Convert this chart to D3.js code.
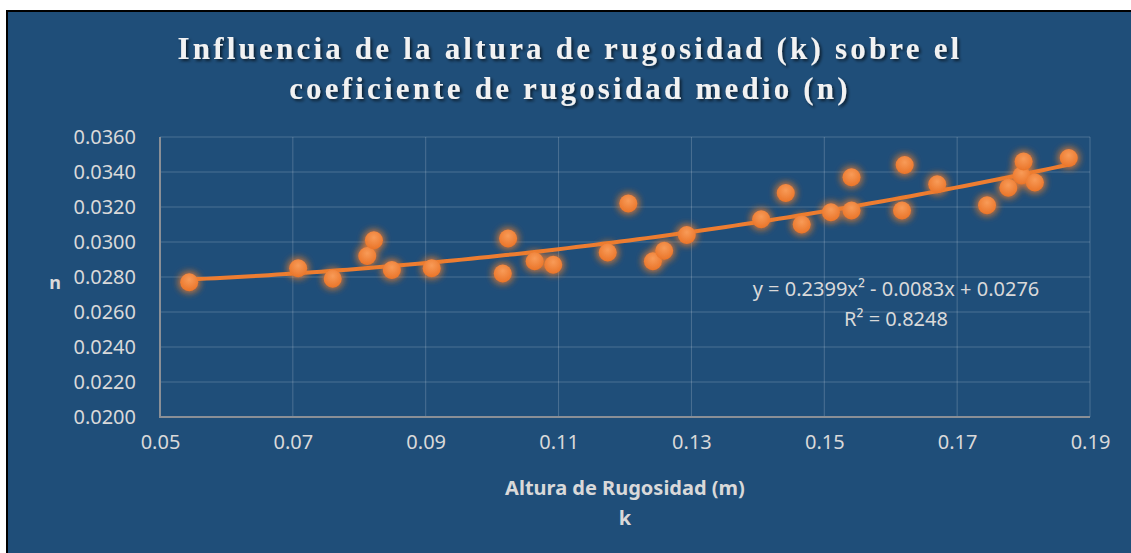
<!DOCTYPE html>
<html>
<head>
<meta charset="utf-8">
<script src="https://cdn.jsdelivr.net/npm/d3@7"></script>
<style>
  body { margin: 0; background: #fff; }
  svg { display: block; }
</style>
</head>
<body>
<div id="chart"></div>
<script>
// data
var kValues = [0.0544, 0.0708, 0.0760, 0.0812, 0.0822, 0.0849, 0.0909, 0.1016, 0.1024, 0.1064,
               0.1092, 0.1174, 0.1205, 0.1242, 0.1259, 0.1293, 0.1405, 0.1442, 0.1466, 0.1510,
               0.1541, 0.1541, 0.1617, 0.1621, 0.1670, 0.1745, 0.1777, 0.1797, 0.1800, 0.1817, 0.1868];
var nValues = [0.0277, 0.0285, 0.0279, 0.0292, 0.0301, 0.0284, 0.0285, 0.0282, 0.0302, 0.0289,
               0.0287, 0.0294, 0.0322, 0.0289, 0.0295, 0.0304, 0.0313, 0.0328, 0.0310, 0.0317,
               0.0337, 0.0318, 0.0318, 0.0344, 0.0333, 0.0321, 0.0331, 0.0338, 0.0346, 0.0334, 0.0348];
var xTicks = [0.05, 0.07, 0.09, 0.11, 0.13, 0.15, 0.17, 0.19];
var yTicks = [0.020, 0.022, 0.024, 0.026, 0.028, 0.030, 0.032, 0.034, 0.036];
// polynomial trendline coefficients shown on the chart
var trendCoef = [0.2399, -0.0083, 0.0276];
var trendLabel = ['y = 0.2399x\u00B2 - 0.0083x + 0.0276', 'R\u00B2 = 0.8248'];
var titleLines = ['Influencia de la altura de rugosidad (k) sobre el', 'coeficiente de rugosidad medio (n)'];

var W = 1131, H = 553;
var pLeft = 160, pRight = 1090, pTop = 137, pBottom = 417;
var orange = '#ED7D31', textCol = '#d9d9d9';

var svg = d3.select('#chart').append('svg').attr('width', W).attr('height', H);
var defs = svg.append('defs');

var glow = defs.append('filter').attr('id', 'glow')
  .attr('x', '-10%').attr('y', '-10%').attr('width', '120%').attr('height', '120%');
glow.append('feGaussianBlur').attr('in', 'SourceAlpha').attr('stdDeviation', 4.5).attr('result', 'blur');
glow.append('feFlood').attr('flood-color', orange).attr('flood-opacity', 0.8);
glow.append('feComposite').attr('in2', 'blur').attr('operator', 'in').attr('result', 'g');
var gm = glow.append('feMerge');
gm.append('feMergeNode').attr('in', 'g');
gm.append('feMergeNode').attr('in', 'g');
gm.append('feMergeNode').attr('in', 'SourceGraphic');

var grad = defs.append('radialGradient').attr('id', 'dot').attr('cx', '50%').attr('cy', '35%').attr('r', '65%');
grad.append('stop').attr('offset', '0%').attr('stop-color', '#f89b58');
grad.append('stop').attr('offset', '100%').attr('stop-color', '#ea7428');

var shadow = defs.append('filter').attr('id', 'tshadow');
shadow.append('feDropShadow').attr('dx', 2).attr('dy', 2).attr('stdDeviation', 1.5)
  .attr('flood-color', '#000').attr('flood-opacity', 0.6);

// frame
svg.append('rect').attr('x', 7).attr('y', 11).attr('width', W).attr('height', H)
  .attr('fill', '#1f4e79').attr('stroke', '#000').attr('stroke-width', 2);

var x = d3.scaleLinear().domain([0.05, 0.19]).range([pLeft, pRight]);
var y = d3.scaleLinear().domain([0.020, 0.036]).range([pBottom, pTop]);

// gridlines
svg.append('g').selectAll('line').data(yTicks.slice(1)).enter().append('line')
  .attr('x1', pLeft).attr('x2', pRight)
  .attr('y1', function(d) { return y(d); }).attr('y2', function(d) { return y(d); })
  .attr('stroke', 'rgba(255,255,255,0.2)').attr('stroke-width', 1);
svg.append('g').selectAll('line').data(xTicks.slice(1)).enter().append('line')
  .attr('y1', pTop).attr('y2', pBottom)
  .attr('x1', function(d) { return x(d); }).attr('x2', function(d) { return x(d); })
  .attr('stroke', 'rgba(255,255,255,0.2)').attr('stroke-width', 1);

// axes
var xAxis = svg.append('g').attr('transform', 'translate(0,' + pBottom + ')')
  .call(d3.axisBottom(x).tickValues(xTicks).tickSize(0).tickPadding(18).tickFormat(d3.format('.2f')));
var yAxis = svg.append('g').attr('transform', 'translate(' + pLeft + ',0)')
  .call(d3.axisLeft(y).tickValues(yTicks).tickSize(0).tickPadding(24).tickFormat(d3.format('.4f')));
[xAxis, yAxis].forEach(function(a) {
  a.select('.domain').attr('stroke', '#8a8f96').attr('stroke-width', 2);
  a.selectAll('text').attr('fill', textCol).attr('font-family', 'Noto Sans').attr('font-size', 20);
});
yAxis.select('.domain').attr('d', 'M0,' + pTop + 'V' + (pBottom + 1));
xAxis.select('.domain').attr('d', 'M' + pLeft + ',0H' + pRight);

// trendline
var pts = d3.range(0, 101).map(function(i) {
  var k = d3.min(kValues) + (d3.max(kValues) - d3.min(kValues)) * i / 100;
  return [k, trendCoef[0] * k * k + trendCoef[1] * k + trendCoef[2]];
});
svg.append('path').datum(pts)
  .attr('d', d3.line().x(function(d) { return x(d[0]); }).y(function(d) { return y(d[1]); }))
  .attr('fill', 'none').attr('stroke', orange).attr('stroke-width', 4);

// points
svg.append('g').attr('filter', 'url(#glow)').selectAll('circle').data(kValues).enter().append('circle')
  .attr('cx', function(d) { return x(d); })
  .attr('cy', function(d, i) { return y(nValues[i]); })
  .attr('r', 9).attr('fill', 'url(#dot)');

// equation
svg.selectAll('text.eq').data(trendLabel).enter().append('text')
  .attr('class', 'eq')
  .attr('x', 896).attr('y', function(d, i) { return 296 + i * 30; })
  .attr('text-anchor', 'middle').attr('fill', textCol)
  .attr('font-family', 'Noto Sans').attr('font-size', 20)
  .text(function(d) { return d; });

// axis titles
svg.append('text').attr('x', 55).attr('y', 289).attr('text-anchor', 'middle')
  .attr('fill', textCol).attr('font-family', 'Noto Sans').attr('font-weight', 'bold').attr('font-size', 18)
  .text('n');
svg.append('text').attr('x', (pLeft + pRight) / 2).attr('y', 495).attr('text-anchor', 'middle')
  .attr('fill', textCol).attr('font-family', 'Noto Sans').attr('font-weight', 'bold').attr('font-size', 20)
  .text('Altura de Rugosidad (m)');
svg.append('text').attr('x', (pLeft + pRight) / 2).attr('y', 525).attr('text-anchor', 'middle')
  .attr('fill', textCol).attr('font-family', 'Noto Sans').attr('font-weight', 'bold').attr('font-size', 20)
  .text('k');

// title
svg.selectAll('text.title').data(titleLines).enter().append('text')
  .attr('class', 'title')
  .attr('x', 570).attr('y', function(d, i) { return 59 + i * 40; })
  .attr('text-anchor', 'middle').attr('fill', '#f2f2f2').attr('filter', 'url(#tshadow)')
  .attr('font-family', 'Liberation Serif').attr('font-weight', 'bold').attr('font-size', 31)
  .attr('letter-spacing', 3.2)
  .text(function(d) { return d; });
</script>
</body>
</html>
